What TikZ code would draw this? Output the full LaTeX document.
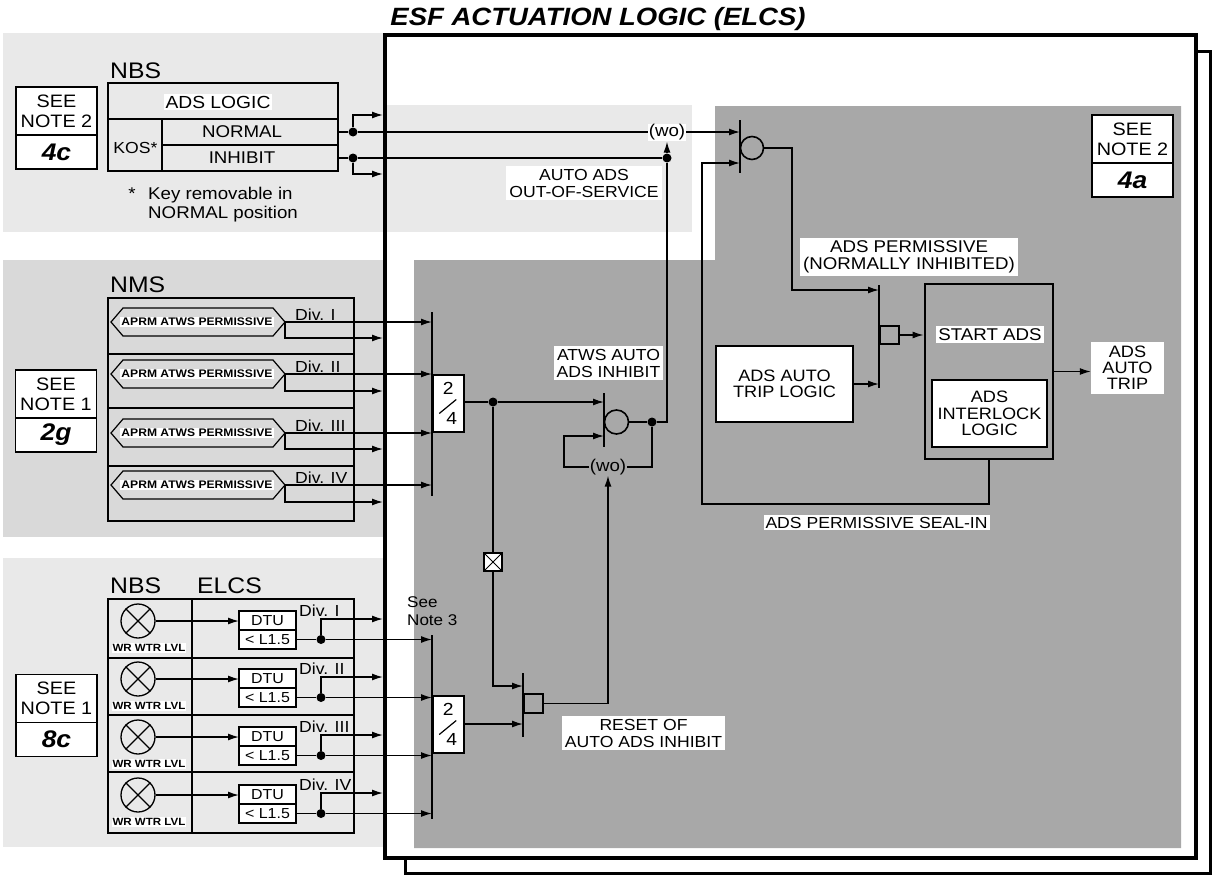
\documentclass[tikz,border=0pt]{standalone}
\usepackage{fontspec}
\setmainfont{Liberation Sans}[FakeStretch=1.1]
\usetikzlibrary{arrows.meta,calc}
\definecolor{lgray}{RGB}{233,233,233}
\definecolor{mgray}{RGB}{217,217,217}
\definecolor{dgray}{RGB}{168,168,168}
\newcommand\fsz[2]{\fontsize{#1}{#2}\selectfont}
\tikzset{
  sig/.style={line width=1.4pt},
  arr/.style={sig,-{Latex[length=11pt,width=7pt]}},
  barl/.style={line width=2.5pt},
  dotn/.style={circle,fill=black,inner sep=0pt,minimum size=9pt},
  lbl/.style={fill=white,inner sep=3pt,align=center,font=\fsz{16}{17}},
  cell/.style={draw,line width=1.6pt,inner sep=0pt,outer sep=0pt},
  notetop/.style={draw,line width=1.6pt,fill=white,minimum width=81pt,minimum height=48pt,inner sep=0pt,outer sep=0pt,align=center,font=\fsz{18}{20}},
  notebot/.style={draw,line width=1.6pt,fill=white,minimum width=81pt,minimum height=34pt,inner sep=0pt,outer sep=0pt,font=\fsz{24}{24}\bfseries\itshape},
  hdr/.style={inner sep=0pt,font=\fsz{22.5}{22.5}},
  plain/.style={inner sep=0pt,font=\fsz{17}{17}},
  divl/.style={inner sep=0pt,font=\fsz{16}{16},anchor=base west},
  circg/.style={circle,draw,line width=1.6pt,minimum size=24pt,inner sep=0pt},
  rectg/.style={draw,line width=1.6pt,minimum width=19pt,minimum height=19pt,inner sep=0pt},
  vote/.style={draw,line width=1.5pt,fill=white,minimum width=31pt,minimum height=57pt,inner sep=0pt,anchor=west},
  votet/.style={inner sep=0pt,font=\fsz{17.5}{17.5}},
  aprm/.style={fill=white,inner sep=1.5pt,font=\fsz{11}{11}\bfseries},
  wrl/.style={fill=white,inner sep=1pt,font=\fsz{10.5}{10.5}\bfseries},
  lampn/.style={circle,draw,line width=1.3pt,minimum size=34pt,inner sep=0pt},
  dtun/.style={draw,line width=1.3pt,fill=white,minimum width=57pt,minimum height=19pt,inner sep=0pt,outer sep=0pt,font=\fsz{14.5}{14.5}},
}
\begin{document}
\begin{tikzpicture}[x=1pt,y=-1pt]
\useasboundingbox (0,0) rectangle (1212,875);
% ---------- backgrounds ----------
\fill[lgray] (3,33) rectangle (385,232);
\fill[mgray] (3,260) rectangle (385,537);
\fill[lgray] (3,558) rectangle (385,847);
\draw[line width=3pt,fill=white] (405,52) rectangle (1210,873);
\fill[white] (385,35) rectangle (1196,858);
\fill[lgray] (385,105) rectangle (692,232);
\fill[dgray] (715,106) -- (1181,106) -- (1181,848) -- (414,848) -- (414,260) -- (715,260) -- cycle;
\draw[line width=4pt] (385,35) rectangle (1196,858);
% ---------- title ----------
\node[inner sep=0pt,font=\fsz{25}{25}\bfseries\itshape,anchor=base] (ttl) at (598,26) {ESF ACTUATION LOGIC (ELCS)};
% ---------- note boxes ----------
\node[notetop] (n1t) at (56.5,111) {SEE\\NOTE 2};
\node[notebot,anchor=north] (n1b) at (n1t.south) {4c};
\node[notetop] (n2t) at (56,394) {SEE\\NOTE 1};
\node[notebot,anchor=north] (n2b) at (n2t.south) {2g};
\node[notetop] (n3t) at (56.5,698.5) {SEE\\NOTE 1};
\node[notebot,anchor=north] (n3b) at (n3t.south) {8c};
\node[notetop] (n4t) at (1132.5,139) {SEE\\NOTE 2};
\node[notebot,anchor=north] (n4b) at (n4t.south) {4a};
% ---------- headers ----------
\node[hdr,anchor=base west] (hnbs) at (110,78) {NBS};
\node[hdr,anchor=base west] (hnms) at (110,292) {NMS};
\node[hdr,anchor=base west] (hnbs2) at (110,593) {NBS};
\node[hdr,anchor=base west] (helcs) at (197,593) {ELCS};
% ---------- ADS logic block ----------
\node[cell,minimum width=230pt,minimum height=36pt,anchor=north west] (adsl) at (108,83) {};
\node[cell,minimum width=54pt,minimum height=52pt,anchor=north west] (kos) at (108,119) {};
\node[cell,minimum width=176pt,minimum height=26pt,anchor=north west] (norm) at (162,119) {};
\node[cell,minimum width=176pt,minimum height=26pt,anchor=north west] (inhb) at (162,145) {};
\node[fill=white,inner sep=1.5pt,font=\fsz{17.5}{17.5}] (adslt) at (218,102) {ADS LOGIC};
\node[plain] (normt) at (242,132) {NORMAL};
\node[plain] (inhbt) at (242,158) {INHIBIT};
\node[inner sep=0pt,font=\fsz{16}{16}] (kost) at (135.5,148) {KOS*};
\node[inner sep=0pt,font=\fsz{17}{17},anchor=base] (star) at (132,199) {*};
\node[inner sep=0pt,font=\fsz{17}{19},align=left,anchor=north west] (fnote) at (148,187) {Key removable in\\NORMAL position};
\node[dotn] (dN) at (353,132) {};
\node[dotn] (dI) at (353,158) {};
\coordinate (fN) at (383,115);
\coordinate (fI) at (383,174);
\draw[sig] (norm.east) -- (dN);
\draw[arr] (dN) |- (fN);
\draw[sig] (inhb.east) -- (dI);
\draw[arr] (dI) |- (fI);
% ---------- top (wo) and gate 1 ----------
\node[fill=white,inner sep=1pt,font=\fsz{17}{17}] (wo1) at (667,132.5) {(wo)};
\node[lbl] (aoos) at (584,183) {AUTO ADS\\OUT-OF-SERVICE};
\node[dotn] (dO) at (667,158) {};
\coordinate (g1t) at (740,120);
\coordinate (g1b) at (740,173);
\coordinate (g1i2) at (740,163);
\draw[barl] (g1t) -- (g1b);
\node[circg,minimum size=23pt] (g1c) at (752,148) {};
\draw[sig] (dN) -- (wo1.west |- dN);
\draw[arr] (wo1.east |- dN) -- (dN -| g1t);
\draw[sig] (dI) -- (dO);
\draw[arr] (dO) -- (wo1.south);
% ---------- gate 3, start ADS ----------
\coordinate (g3t) at (879,285);
\coordinate (g3b) at (879,388);
\coordinate (g3i1) at (879,290);
\draw[barl] (g3t) -- (g3b);
\node[rectg,minimum height=18pt,anchor=west] (g3r) at (879,335) {};
\coordinate (k1) at (792,290);
\draw[arr] (g1c.east) -| (k1) -- (g3i1);
\node[lbl,font=\fsz{17}{16.5}] (perm) at (909,257) {ADS PERMISSIVE\\(NORMALLY INHIBITED)};
\node[draw,line width=1.4pt,fill=white,minimum width=137pt,minimum height=76pt,align=center,inner sep=0pt,font=\fsz{16.5}{16.5}] (tripl) at (784.5,384) {ADS AUTO\\TRIP LOGIC};
\draw[arr] (tripl.east) -- (tripl.east -| g3t);
\node[draw,line width=2.8pt,minimum width=128pt,minimum height=175pt] (big) at (989,371.5) {};
\node[lbl,font=\fsz{17}{17},inner sep=2pt] (start) at (990,334.5) {START ADS};
\node[draw,line width=1.4pt,fill=white,minimum width=115pt,minimum height=67pt,align=center,inner sep=0pt,font=\fsz{16.5}{16.5}] (inter) at (989.5,413.5) {ADS\\INTERLOCK\\LOGIC};
\draw[arr] (g3r.east) -- (g3r.east -| big.west);
\node[lbl,minimum width=73pt,minimum height=52pt,inner sep=0pt,font=\fsz{16.5}{16}] (atrip) at (1127.5,368) {ADS\\AUTO\\TRIP};
\draw[arr] (big.east) -- (big.east -| atrip.west);
\coordinate (k2) at (702,504);
\draw[arr] (big.south) |- (k2) |- (g1i2);
\node[lbl,inner sep=2pt] (seal) at (876.5,522.5) {ADS PERMISSIVE SEAL-IN};
% ---------- NMS block ----------
\draw[line width=1.6pt] (108,298) rectangle (354,521);
\draw[line width=1.6pt] (108,354) -- (354,354) (108,408) -- (354,408) (108,466) -- (354,466);
\coordinate (nb1) at (432,312);
\coordinate (nb2) at (432,496);
\draw[barl] (nb1) -- (nb2);
\foreach \i/\hy/\sy/\dv in {1/322/338/I,2/374/391/II,3/433/449/III,4/485/502/IV}{
  \draw[line width=1.2pt] (111,\hy) -- (123,\hy-14) -- (273,\hy-14) -- (285,\hy) -- (273,\hy+14) -- (123,\hy+14) -- cycle;
  \node[aprm] (h\i) at (197,\hy) {APRM ATWS PERMISSIVE};
  \coordinate (ht\i) at (285,\hy);
  \coordinate (fs\i) at (383,\sy);
  \draw[arr] (ht\i) -- (ht\i -| nb1);
  \draw[arr] (ht\i) |- (fs\i);
  \node[divl] (dv\i) at (295,\hy-2) {Div. \dv};
}
\node[vote] (v1) at (432,403.5) {};
\node[votet] (v1a) at ($(v1.center)+(0,-15.5)$) {2};
\node[votet] (v1b) at ($(v1.center)+(3.5,14.5)$) {4};
\draw[line width=1.2pt] ($(v1.center)+(-9,10)$) -- ($(v1.center)+(8,-4)$);
% ---------- ATWS gate 2 ----------
\coordinate (g2t) at (604,393);
\coordinate (g2b) at (604,447);
\coordinate (g2i1) at (604,402);
\coordinate (g2i2) at (604,436);
\draw[barl] (g2t) -- (g2b);
\node[circg] (g2c) at (616.5,422) {};
\node[dotn] (dA2) at (493,402) {};
\draw[sig] (v1.east |- dA2) -- (dA2);
\draw[arr] (dA2) -- (g2i1);
\node[lbl] (atws) at (608.5,363) {ATWS AUTO\\ADS INHIBIT};
\node[dotn] (dA) at (652,422) {};
\coordinate (c1) at (667,422);
\draw[sig] (g2c.east) -- (dA) -- (c1) -- (dO);
\node[inner sep=0.5pt,font=\fsz{17}{17}] (wo2) at (608,467) {(wo)};
\draw[sig] (dA) |- (wo2.east);
\coordinate (k3) at (564,436);
\draw[arr] (wo2.west) -| (k3) -- (g2i2);
% ---------- cross box and reset gate 4 ----------
\node[draw,fill=white,line width=1.2pt,minimum size=18pt,inner sep=0pt] (xbox) at (493,562) {};
\draw[line width=1pt] (xbox.north west) -- (xbox.south east) (xbox.north east) -- (xbox.south west);
\coordinate (g4t) at (523,673);
\coordinate (g4b) at (523,737);
\coordinate (g4i1) at (523,686);
\coordinate (g4i2) at (523,724);
\draw[barl] (g4t) -- (g4b);
\node[rectg,anchor=west] (g4r) at (523,703.5) {};
\draw[sig] (dA2) -- (xbox.north);
\draw[arr] (xbox.south) |- (g4i1);
\draw[arr] (g4r.east) -| (wo2.south);
\node[lbl] (reset) at (643.5,733) {RESET OF\\AUTO ADS INHIBIT};
% ---------- lower vote ----------
\coordinate (lb1) at (432,635);
\coordinate (lb2) at (432,819);
\draw[barl] (lb1) -- (lb2);
\node[vote] (v2) at (432,724.5) {};
\node[votet] (v2a) at ($(v2.center)+(0,-15.5)$) {2};
\node[votet] (v2b) at ($(v2.center)+(3.5,14.5)$) {4};
\draw[line width=1.2pt] ($(v2.center)+(-9,10)$) -- ($(v2.center)+(8,-4)$);
\draw[arr] (v2.east |- g4i2) -- (g4i2);
\node[inner sep=0pt,font=\fsz{15.5}{17.5},align=left,anchor=north west] (sn3) at (407,596.5) {See\\Note 3};
% ---------- NBS / ELCS block ----------
\draw[line width=1.6pt] (108,599) rectangle (354,833);
\draw[line width=1.6pt] (192,599) -- (192,833) (108,658) -- (354,658) (108,715) -- (354,715) (108,772) -- (354,772);
\foreach \i/\t/\dv in {1/611/I,2/669/II,3/727/III,4/785/IV}{
  \node[lampn] (lp\i) at (138,\t+10) {};
  \draw[line width=1.2pt] (lp\i.north west) -- (lp\i.south east) (lp\i.north east) -- (lp\i.south west);
  \node[wrl] (wr\i) at (149,\t+37) {WR WTR LVL};
  \node[dtun,anchor=north west] (du\i) at (239,\t) {DTU};
  \node[dtun,anchor=north] (dl\i) at (du\i.south) {< L1.5};
  \draw[arr] (lp\i.east) -- (lp\i.east -| du\i.west);
  \node[dotn] (dd\i) at (321,\t+28.5) {};
  \draw[sig] (dl\i.east) -- (dd\i);
  \draw[arr] (dd\i) -- (dd\i -| lb1);
  \coordinate (fb\i) at (383,\t+8);
  \draw[arr] (dd\i) |- (fb\i);
  \node[divl] (dvb\i) at (299,\t+5) {Div. \dv};
}
\end{tikzpicture}
\end{document}
